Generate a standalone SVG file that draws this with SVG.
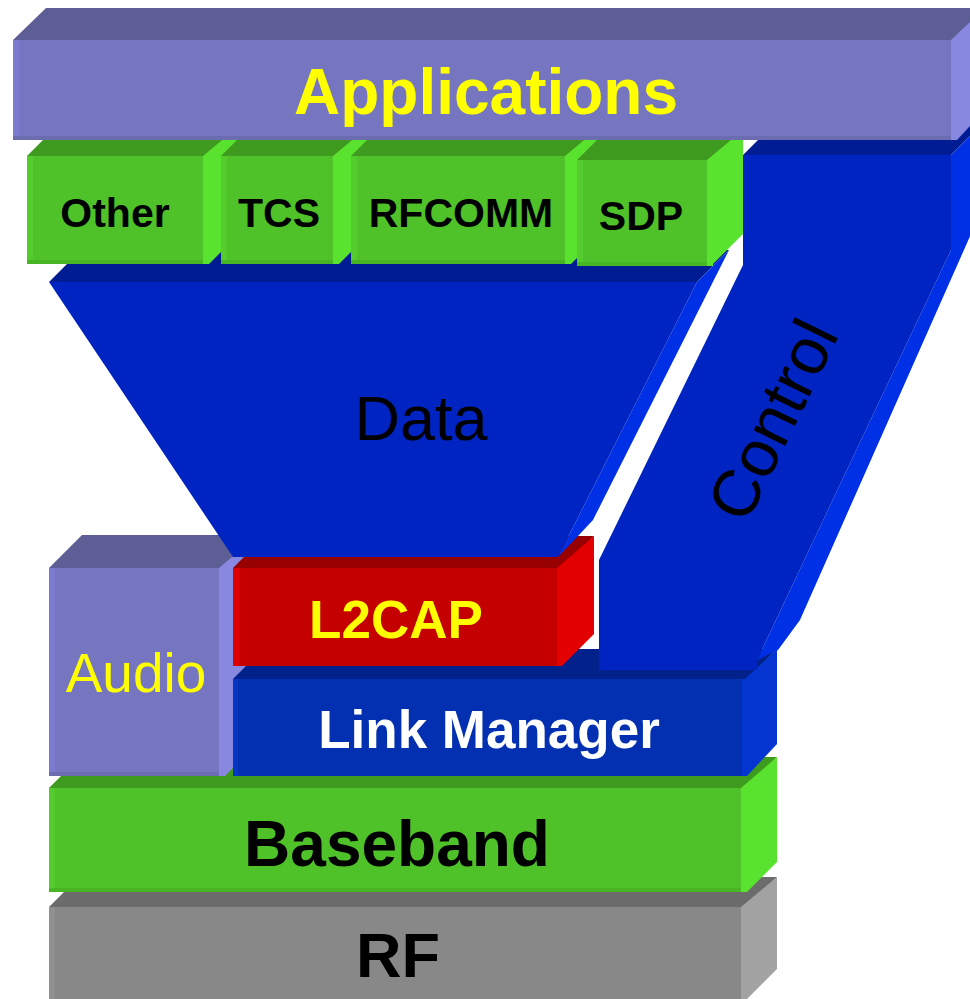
<svg xmlns="http://www.w3.org/2000/svg" width="970" height="999" viewBox="0 0 970 999">
<style>
.p-f{fill:#7676c0}.p-t{fill:#5e5e96}.p-s{fill:#8888e0}.p-l{fill:#7b7bd0}.p-b{fill:#6c6cb0}
.g-f{fill:#4fc229}.g-t{fill:#3f9a20}.g-s{fill:#5ae32e}.g-l{fill:#55cc2d}.g-b{fill:#47b524}
.b-f{fill:#0330b0}.b-t{fill:#03218a}.b-s{fill:#0535d0}.b-l{fill:#0536c8}.b-b{fill:#032aa0}
.r-f{fill:#c40000}.r-t{fill:#980000}.r-s{fill:#e20000}.r-l{fill:#e00000}.r-b{fill:#b40000}
.k-f{fill:#888888}.k-t{fill:#6c6c6c}.k-s{fill:#a2a2a2}.k-l{fill:#909090}.k-b{fill:#7e7e7e}
.d-f{fill:#0024c2}.d-t{fill:#001c92}.d-s{fill:#0030e6}
text{font-family:"Liberation Sans",Arial,Helvetica,sans-serif}
.bold{font-weight:bold}
.lbl{text-anchor:middle}
</style>
<rect width="970" height="999" fill="#ffffff"/>

<!-- RF -->
<g id="rf">
<polygon class="k-t" points="49,907 79,877 777,877 747,907"/>
<polygon class="k-s" points="741,907 777,877 777,969 747,999 741,999"/>
<rect class="k-f" x="49" y="907" width="698" height="92"/>
<rect class="k-l" x="49" y="907" width="6" height="92"/>
<rect class="k-s" x="741" y="907" width="6" height="92"/>
<text class="lbl bold" x="398" y="977" font-size="63" fill="#000000">RF</text>
</g>

<!-- Baseband -->
<g id="baseband">
<polygon class="g-t" points="49,788 80,757 777,757 747,788"/>
<polygon class="g-s" points="741,788 777,757 777,862 747,892 741,892"/>
<rect class="g-f" x="49" y="788" width="698" height="104"/>
<rect class="g-l" x="49" y="788" width="6" height="104"/>
<rect class="g-b" x="49" y="888" width="698" height="4"/>
<rect class="g-s" x="741" y="788" width="6" height="104"/>
<text class="lbl bold" x="397" y="866" font-size="64" fill="#000000">Baseband</text>
</g>

<!-- Audio -->
<g id="audio">
<polygon class="p-t" points="49,568 82,535 258,535 225,568"/>
<polygon class="p-s" points="219,568 258,535 258,743 225,776 219,776"/>
<rect class="p-f" x="49" y="568" width="176" height="208"/>
<rect class="p-l" x="49" y="568" width="6" height="208"/>
<rect class="p-b" x="49" y="772" width="176" height="4"/>
<rect class="p-s" x="219" y="568" width="6" height="208"/>
<text class="lbl" x="136" y="692" font-size="55" fill="#ffff00">Audio</text>
</g>

<!-- Link Manager -->
<g id="link-manager">
<polygon class="b-t" points="233,679 263,649 777,649 747,679"/>
<polygon class="b-s" points="745,679 777,649 777,744 747,776 745,776"/>
<rect class="b-f" x="233" y="679" width="514" height="97"/>
<rect class="b-l" x="233" y="679" width="5" height="97"/>
<rect class="b-s" x="742" y="679" width="5" height="97"/>
<text class="lbl bold" x="489" y="748" font-size="53" fill="#ffffff">Link Manager</text>
</g>

<!-- L2CAP -->
<g id="l2cap">
<polygon class="r-t" points="233,568 265,536 594,536 562,568"/>
<polygon class="r-s" points="557,568 594,536 594,634 562,666 557,666"/>
<rect class="r-f" x="233" y="568" width="329" height="98"/>
<rect class="r-l" x="233" y="568" width="6" height="98"/>
<rect class="r-s" x="557" y="568" width="5" height="98"/>
<text class="lbl bold" x="396" y="638" font-size="53" fill="#ffff00">L2CAP</text>
</g>

<!-- Control -->
<g id="control">
<polygon class="d-t" points="743,155 773,125 981,125 951,155"/>
<polygon class="d-s" points="951,155 975,131 975,225 800,620 778,650 757,660 951,250"/>
<polygon class="d-f" points="743,155 951,155 951,250 757,660 757,670 599,670 599,560 743,265"/>
<text class="lbl" transform="translate(793,430) rotate(-64)" font-size="66" fill="#000000">Control</text>
</g>

<!-- Data funnel -->
<g id="data">
<polygon class="d-t" points="49,282 81,250 729,250 697,282"/>
<polygon class="d-s" points="697,282 729,250 593,520 578,536 558,557"/>
<polygon class="d-f" points="49,282 697,282 558,557 233,557"/>
<text class="lbl" x="421" y="440" font-size="63" fill="#000000">Data</text>
</g>

<!-- Green protocol boxes -->
<g id="other">
<polygon class="g-t" points="27,156 57,126 239,126 209,156"/>
<polygon class="g-s" points="203,156 239,126 239,234 209,264 203,264"/>
<rect class="g-f" x="27" y="156" width="182" height="108"/>
<rect class="g-l" x="27" y="156" width="6" height="108"/>
<rect class="g-b" x="27" y="260" width="182" height="4"/>
<rect class="g-s" x="203" y="156" width="6" height="108"/>
<text class="lbl bold" x="115" y="227" font-size="41" fill="#000000">Other</text>
</g>
<g id="tcs">
<polygon class="g-t" points="221,156 251,126 369,126 339,156"/>
<polygon class="g-s" points="333,156 369,126 369,234 339,264 333,264"/>
<rect class="g-f" x="221" y="156" width="118" height="108"/>
<rect class="g-l" x="221" y="156" width="6" height="108"/>
<rect class="g-b" x="221" y="260" width="118" height="4"/>
<rect class="g-s" x="333" y="156" width="6" height="108"/>
<text class="lbl bold" x="279" y="227" font-size="41" fill="#000000">TCS</text>
</g>
<g id="rfcomm">
<polygon class="g-t" points="351,156 381,126 601,126 571,156"/>
<polygon class="g-s" points="565,156 601,126 601,234 571,264 565,264"/>
<rect class="g-f" x="351" y="156" width="220" height="108"/>
<rect class="g-l" x="351" y="156" width="6" height="108"/>
<rect class="g-b" x="351" y="260" width="220" height="4"/>
<rect class="g-s" x="565" y="156" width="6" height="108"/>
<text class="lbl bold" x="461" y="227" font-size="41" fill="#000000">RFCOMM</text>
</g>
<g id="sdp">
<polygon class="g-t" points="577,160 607,130 743,130 713,160"/>
<polygon class="g-s" points="707,160 743,130 743,234 713,264 707,264"/>
<rect class="g-f" x="577" y="160" width="136" height="106"/>
<rect class="g-l" x="577" y="160" width="6" height="106"/>
<rect class="g-b" x="577" y="262" width="136" height="4"/>
<rect class="g-s" x="707" y="160" width="6" height="106"/>
<text class="lbl bold" x="641" y="230" font-size="41" fill="#000000">SDP</text>
</g>

<!-- Applications -->
<g id="applications">
<polygon class="p-t" points="13,40 46,8 990,8 957,40"/>
<polygon class="p-s" points="951,40 985,8 985,110 957,140 951,140"/>
<rect class="p-f" x="13" y="40" width="944" height="100"/>
<rect class="p-l" x="13" y="40" width="6" height="100"/>
<rect class="p-b" x="13" y="136" width="944" height="4"/>
<rect class="p-s" x="951" y="40" width="6" height="100"/>
<text class="lbl bold" x="486" y="114" font-size="64" fill="#ffff00">Applications</text>
</g>

<g id="connectors"></g>
</svg>
